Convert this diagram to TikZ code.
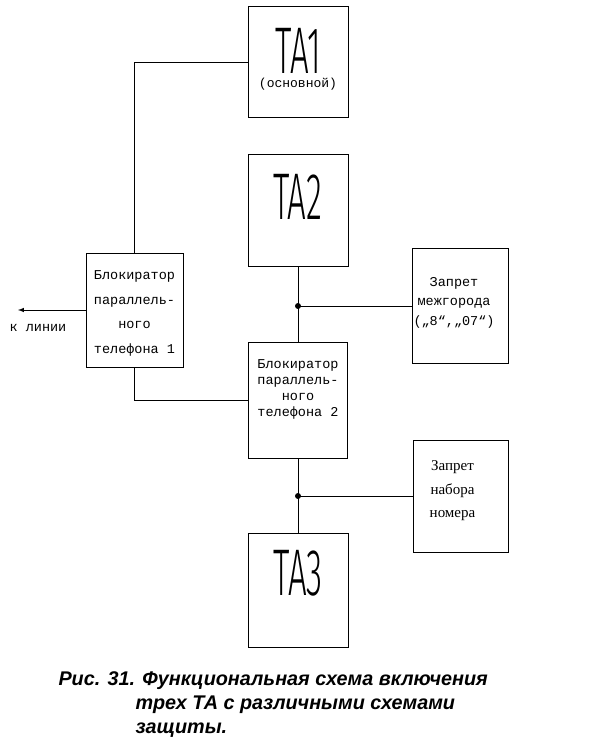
\documentclass[tikz,border=0pt]{standalone}
\usepackage{fontspec}
\setmainfont{Liberation Serif}
\newfontfamily\monofnt{Liberation Mono}
\newfontfamily\sansfnt{Liberation Sans}
\newfontfamily\tafnt{Fira Sans Light}
\usetikzlibrary{shapes,arrows,positioning}

\tikzset{
	blok/.style={draw, rectangle, inner sep=0pt},
	txt/.style={font=\monofnt\fontsize{13.5}{24.5}\selectfont, align=center},
	dot/.style={circle, fill, inner sep=0pt, minimum size=6pt},
	podpis/.style={font=\sansfnt\bfseries\itshape\fontsize{19.8}{19.8}\selectfont, inner sep=0pt, anchor=base west}
}
\newcommand{\tanum}[1]{\raisebox{0pt}[\height][0pt]{\scalebox{0.5}[1]{\tafnt\fontsize{66}{66}\selectfont #1}}}

\begin{document}
\begin{tikzpicture}[x=1pt,y=-1pt,line width=1pt]
	\useasboundingbox (0,0) rectangle (596,743);
	% telephone sets
	\node[blok, minimum width=100pt, minimum height=111pt,
		label={[txt,font=\monofnt\fontsize{13}{13}\selectfont,inner sep=0pt,yshift=-22pt]center:(основной)}] (ta1) at (298,62.5) {};
	\node[inner sep=0pt, anchor=base] (ta1t) at (298,74) {\tanum{ТА1}};
	\node[blok, minimum width=100pt, minimum height=111pt,
		label={[yshift=13.5pt]center:\tanum{ТА2}}] (ta2) at (298,210.5) {};
	\node[blok, minimum width=100pt, minimum height=114pt,
		label={[yshift=17.5pt]center:\tanum{ТА3}}] (ta3) at (298,590) {};
	% blockers
	\node[blok, minimum width=97pt, minimum height=114pt,
		label={[txt,yshift=-3.5pt]center:Блокиратор\\параллель-\\ного\\телефона 1}] (blk1) at (134.5,310) {};
	\node[blok, minimum width=99pt, minimum height=116pt,
		label={[txt,font=\monofnt\fontsize{13.5}{16}\selectfont,yshift=11pt]center:Блокиратор\\параллель-\\ного\\телефона 2}] (blk2) at (298,400) {};
	% restrictions
	\node[blok, minimum width=96pt, minimum height=115pt,
		label={[txt,font=\monofnt\fontsize{13.5}{19.5}\selectfont,xshift=-6pt,yshift=3.5pt]center:Запрет\\межгорода\\(„8“,„07“)}] (mezh) at (460,306) {};
	\node[blok, minimum width=95pt, minimum height=112pt,
		label={[align=center,font=\fontsize{15}{23.5}\selectfont,xshift=-8pt,yshift=5pt]center:Запрет\\набора\\номера}] (nabor) at (460.5,496) {};

	\coordinate (j1) at (298,306);
	\coordinate (j2) at (298,496);
	\coordinate (lin) at (18,310);
	\node[dot] (d1) at (j1) {};
	\node[dot] (d2) at (j2) {};

	\draw (ta1.west) -| (blk1.north);
	\draw (blk1.south) |- (blk2.west);
	\draw (ta2) -- (blk2);
	\draw (blk2) -- (ta3);
	\draw (j1) -- (j1 -| mezh.west);
	\draw (j2) -- (j2 -| nabor.west);
	\draw[-latex] (blk1.west) -- (lin);
	\node[txt] (kl) at (38,328) {к линии};

	% caption
	\node[podpis] (cap1) at (58,685) {Рис. 31. Функциональная схема включения};
	\node[podpis] (cap2) at (135,709) {трех ТА с различными схемами};
	\node[podpis] (cap3) at (135,733) {защиты.};
\end{tikzpicture}
\end{document}
